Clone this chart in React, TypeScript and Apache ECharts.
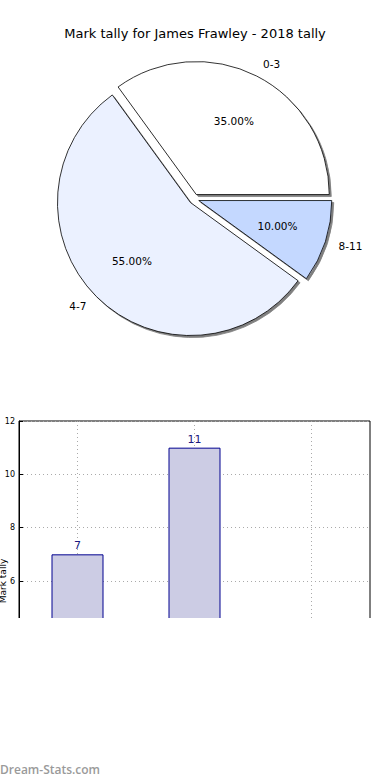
import React, { useEffect, useRef } from "react";
import * as echarts from "echarts";

const titleText = "Mark tally for James Frawley - 2018 tally";
const categories = ["0-3", "4-7", "8-11"];
const tallies = [7, 11, 2];
const sliceColors = ["#FFFFFF", "#EBF1FF", "#C4D8FF"];
const yTicks = { min: 0, max: 12, interval: 2 };
const yAxisName = "Mark tally";
const watermark = "Dream-Stats.com";

export default function App() {
  const ref = useRef<HTMLDivElement>(null);
  useEffect(() => {
    if (!ref.current) return;
    const chart = echarts.init(ref.current, undefined, { renderer: "svg" });
    const R = 133;
    const center = [194, 199];
    const pieData = categories.map((c, i) => ({
      name: c,
      value: tallies[i],
      selected: true,
      itemStyle: { color: sliceColors[i] },
    }));
    const ghostData = categories.map((c, i) => ({
      name: c,
      value: tallies[i],
      selected: true,
    }));
    const font = "DejaVu Sans";
    chart.setOption({
      animation: false,
      title: {
        text: titleText,
        left: "center",
        top: 22,
        textStyle: { fontFamily: font, fontSize: 13, fontWeight: "normal", color: "#000" },
      },
      grid: {
        left: 19,
        right: 20,
        top: 421,
        bottom: 39,
        containLabel: false,
        outerBoundsMode: "none",
        show: true,
        borderColor: "#000",
        borderWidth: 1,
        backgroundColor: "transparent",
      },
      xAxis: {
        type: "category",
        data: categories,
        boundaryGap: true,
        axisLine: { lineStyle: { color: "#000" } },
        axisTick: { show: false },
        axisLabel: { show: false },
        splitLine: {
          show: true,
          alignWithLabel: true,
          lineStyle: { type: [1, 3], color: "#aaaaaa", width: 1 },
        },
      },
      yAxis: {
        type: "value",
        min: yTicks.min,
        max: yTicks.max,
        interval: yTicks.interval,
        name: yAxisName,
        nameLocation: "middle",
        nameGap: 12,
        nameRotate: 90,
        nameMoveOverlap: false,
        nameTextStyle: { fontFamily: font, fontSize: 9, color: "#000" },
        axisLine: { show: true, lineStyle: { color: "#000" } },
        axisTick: { show: true, inside: true, length: 4, lineStyle: { color: "#000" } },
        axisLabel: { fontFamily: font, fontSize: 8, color: "#000", margin: 4 },
        splitLine: {
          show: true,
          lineStyle: { type: [1, 3], color: "#aaaaaa", width: 1 },
        },
      },
      series: [
        {
          type: "pie",
          center,
          radius: R,
          startAngle: 0,
          clockwise: false,
          selectedMode: "multiple",
          selectedOffset: 5,
          avoidLabelOverlap: false,
          silent: true,
          emphasis: { disabled: true },
          itemStyle: {
            borderColor: "#000",
            borderWidth: 0.8,
            shadowColor: "rgba(0,0,0,0.5)",
            shadowBlur: 1,
            shadowOffsetX: 2,
            shadowOffsetY: 2,
          },
          label: {
            show: true,
            position: "outside",
            formatter: "{b}",
            fontFamily: font,
            fontSize: 10.5,
            color: "#000",
            distanceToLabelLine: 0,
          },
          labelLine: { show: false, length: 14, length2: 0 },
          data: pieData,
          z: 2,
        },
        {
          type: "pie",
          center,
          radius: [R * 0.2, R],
          startAngle: 0,
          clockwise: false,
          selectedMode: "multiple",
          selectedOffset: 5,
          silent: true,
          emphasis: { disabled: true },
          itemStyle: { color: "transparent", borderWidth: 0 },
          label: {
            show: true,
            position: "inside",
            formatter: (p: any) => p.percent.toFixed(2) + "%",
            fontFamily: font,
            fontSize: 10.5,
            color: "#000",
          },
          labelLine: { show: false },
          data: ghostData,
          z: 3,
        },
        {
          type: "bar",
          data: tallies,
          barWidth: 52,
          itemStyle: { color: "#CCCCE4", borderColor: "#00008F", borderWidth: 1 },
          label: {
            show: true,
            position: "top",
            distance: 3,
            fontFamily: font,
            fontSize: 11,
            color: "#1a1a80",
          },
          silent: true,
        },
      ],
      graphic: [
        {
          type: "rect",
          shape: { x: 0, y: 618, width: 390, height: 162 },
          style: { fill: "#fff" },
          z: 100,
          silent: true,
        },
        {
          type: "text",
          left: 0,
          top: 763,
          style: {
            text: watermark,
            fill: "#9a9a9a",
            font: "600 12px 'Open Sans'",
          },
          z: 101,
          silent: true,
        },
      ],
    });
    return () => chart.dispose();
  }, []);
  return (
    <div
      ref={ref}
      style={{ position: "fixed", left: 0, top: 0, width: 390, height: 780, background: "#fff" }}
    />
  );
}
